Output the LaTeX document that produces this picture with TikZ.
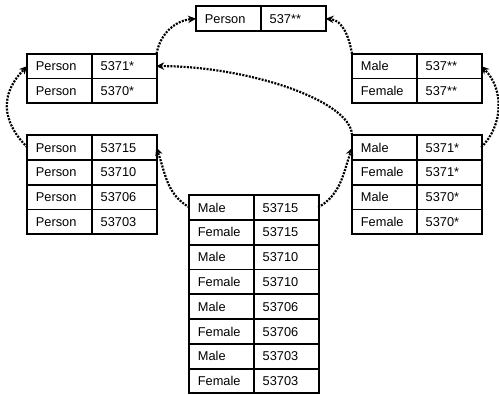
\documentclass[tikz,border=0pt]{standalone}
\usepackage{fontspec}
\setmainfont{Liberation Sans}
\usetikzlibrary{matrix,arrows.meta}
\begin{document}
\begin{tikzpicture}[x=1pt,y=1pt,
  cell/.style={draw, line width=0.8pt, minimum width=64pt, minimum height=24pt,
    text width=47pt, align=left, inner xsep=8.5pt, inner ysep=0pt,
    text height=9.5pt, text depth=0pt, outer sep=0pt,
    font=\fontsize{12.8}{15}\selectfont},
  tbl/.style={matrix of nodes, nodes={cell}, inner sep=0pt, outer sep=0pt,
    column sep=0pt, row sep=0pt, anchor=north west},
  frame/.style={line width=2.2pt},
  conn/.style={line width=2.2pt, dash pattern=on 2pt off 1.3pt,
    -{Stealth[length=8pt,width=7.5pt]}}]
\useasboundingbox (0,0) rectangle (499,-395);

\matrix[tbl] (top) at (196,-6.3) {Person & 537** \\};
\matrix[tbl] (lu) at (27,-53.7) {Person & 5371* \\ Person & 5370* \\};
\matrix[tbl] (ru) at (352,-53.7) {Male & 537** \\ Female & 537** \\};
\matrix[tbl] (ll) at (27,-135) {Person & 53715 \\ Person & 53710 \\ Person & 53706 \\ Person & 53703 \\};
\matrix[tbl] (rl) at (352,-135) {Male & 5371* \\ Female & 5371* \\ Male & 5370* \\ Female & 5370* \\};
\matrix[tbl] (c) at (189,-195) {Male & 53715 \\ Female & 53715 \\ Male & 53710 \\ Female & 53710 \\ Male & 53706 \\ Female & 53706 \\ Male & 53703 \\ Female & 53703 \\};

\foreach \t in {top,lu,ru,ll,rl,c}
  \draw[frame] (\t.north west) rectangle (\t.south east);

\draw[conn] (lu.north east) to[out=80,in=185] (top.west);
\draw[conn] (ru.north west) to[out=100,in=-5] (top.east);
\draw[conn] (rl.north west) to[out=92,in=0,out distance=35pt,in distance=90pt] (lu-1-2.east);
\draw[conn] (rl-1-2.east) to[out=45,in=-45,out distance=32pt,in distance=32pt] (ru-1-2.east);
\draw[conn] (ll-1-1.west) to[out=135,in=225,out distance=38pt,in distance=38pt] (lu-1-1.west);
\draw[conn] (c-1-1.west) to[out=150,in=-70] (ll-1-2.east);
\draw[conn] (c-1-2.east) to[out=30,in=250] (rl-1-1.west);
\end{tikzpicture}
\end{document}
